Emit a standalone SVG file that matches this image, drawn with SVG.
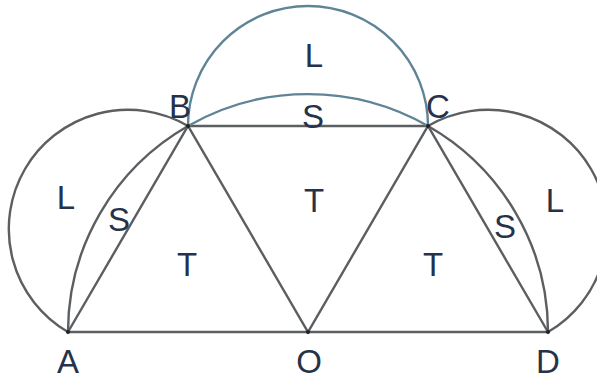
<svg xmlns="http://www.w3.org/2000/svg" width="597" height="380" viewBox="0 0 597 380">
<style>
.ln{fill:none;stroke:#5c5f62;stroke-width:2.4}
.tl{fill:none;stroke:#5f8496;stroke-width:2.4}
.lb{font-family:"Liberation Sans",Arial,sans-serif;font-size:33px;fill:#26324a;text-anchor:middle;dominant-baseline:central}
.pt{fill:#222}
</style>
<rect width="597" height="380" fill="#fff"/>
<g id="connectors">
<path class="ln" d="M68,332 L548,332"/>
<path class="ln" d="M68,332 L188,126 L308,332 L428,126 L548,332"/>
<path class="ln" d="M188,126 L428,126"/>
<path class="ln" d="M68,332 A240,238 0 0 1 188,126"/>
<path class="tl" d="M188,126 A240,238 0 0 1 428,126"/>
<path class="ln" d="M428,126 A240,238 0 0 1 548,332"/>
<path class="tl" d="M188,126 A120,120 0 0 1 428,126"/>
<path class="ln" d="M68,332 A119.2,119.2 0 0 1 188,126"/>
<path class="ln" d="M428,126 A119.2,119.2 0 0 1 548,332"/>
</g>
<g id="A"><circle class="pt" cx="68" cy="332" r="2"/><text class="lb" x="68" y="361">A</text></g>
<g id="O"><circle class="pt" cx="308" cy="332" r="2"/><text class="lb" x="309" y="361">O</text></g>
<g id="D"><circle class="pt" cx="548" cy="332" r="2"/><text class="lb" x="548" y="361">D</text></g>
<g id="B"><circle class="pt" cx="188" cy="126" r="2"/><text class="lb" x="180" y="106">B</text></g>
<g id="C"><circle class="pt" cx="428" cy="126" r="2"/><text class="lb" x="438" y="106">C</text></g>
<g id="labels">
<text class="lb" x="314" y="55">L</text>
<text class="lb" x="313" y="116">S</text>
<text class="lb" x="66" y="197">L</text>
<text class="lb" x="119" y="219">S</text>
<text class="lb" x="187" y="264">T</text>
<text class="lb" x="314" y="200">T</text>
<text class="lb" x="433" y="264">T</text>
<text class="lb" x="505" y="226">S</text>
<text class="lb" x="555" y="200">L</text>
</g>
</svg>
